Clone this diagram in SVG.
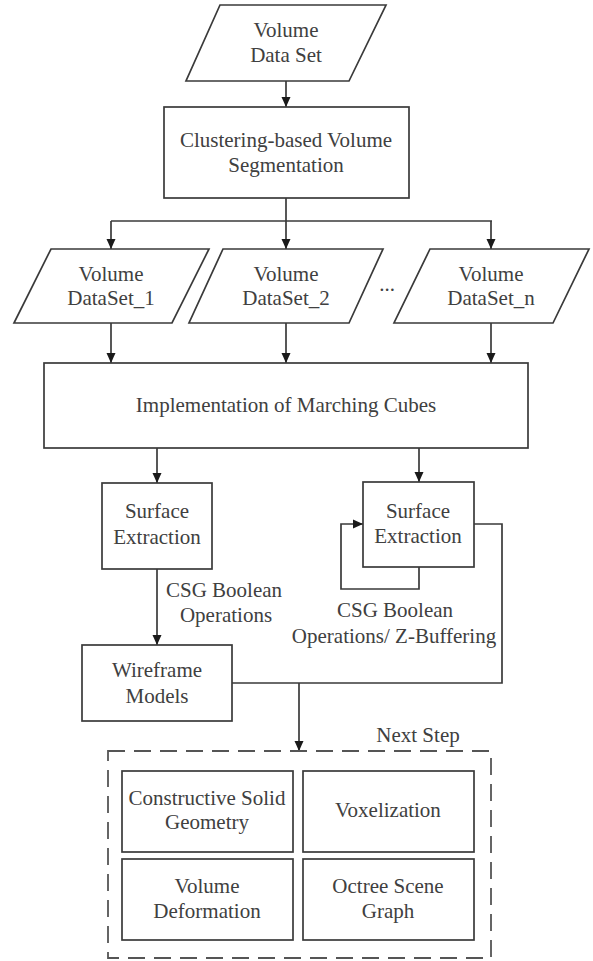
<svg xmlns="http://www.w3.org/2000/svg" width="593" height="961" viewBox="0 0 593 961">
<style>
  .shape { fill: #ffffff; stroke: #3a3a3a; stroke-width: 1.7; }
  .dash { fill: none; stroke: #555555; stroke-width: 1.8; stroke-dasharray: 17 9; }
  .conn { fill: none; stroke: #3a3a3a; stroke-width: 1.7; }
  .arrow { marker-end: url(#ah); }
  text { font-family: "Liberation Serif", "Times New Roman", serif; font-size: 21px; fill: #404040; text-anchor: middle; }
</style>
<defs>
  <marker id="ah" viewBox="0 0 10 10" refX="10" refY="5" markerWidth="10" markerHeight="10" markerUnits="userSpaceOnUse" orient="auto">
    <path d="M0,0.5 L10,5 L0,9.5 Z" fill="#1a1a1a"/>
  </marker>
</defs>
<rect x="0" y="0" width="593" height="961" fill="#ffffff"/>

<g id="connectors">
  <path class="conn arrow" d="M286,81 L286,107"/>
  <path class="conn" d="M286,198 L286,221"/>
  <path class="conn" d="M111,221 L492,221"/>
  <path class="conn arrow" d="M111,221 L111,249"/>
  <path class="conn arrow" d="M286,221 L286,249"/>
  <path class="conn arrow" d="M491,221 L491,249"/>
  <path class="conn arrow" d="M111,323 L111,363"/>
  <path class="conn arrow" d="M286,323 L286,363"/>
  <path class="conn arrow" d="M491,323 L491,363"/>
  <path class="conn arrow" d="M157,448 L157,483"/>
  <path class="conn arrow" d="M419,448 L419,482"/>
  <path class="conn arrow" d="M157,569 L157,645"/>
  <path class="conn arrow" d="M419,567 L419,589 L341,589 L341,524 L363,524"/>
  <path class="conn" d="M474,524 L502,524 L502,683 L232,683"/>
  <path class="conn arrow" d="M299,683 L299,751"/>
  <text x="224" y="597">CSG Boolean</text>
  <text x="226" y="622">Operations</text>
  <text x="395" y="617">CSG Boolean</text>
  <text x="394" y="643">Operations/ Z-Buffering</text>
</g>

<g id="volume-data-set">
  <polygon class="shape" points="220,5 386,5 349,81 186,81"/>
  <text x="286" y="37">Volume</text>
  <text x="286" y="62">Data Set</text>
</g>

<g id="clustering">
  <rect class="shape" x="164" y="107" width="245" height="91"/>
  <text x="286" y="147">Clustering-based Volume</text>
  <text x="286" y="172">Segmentation</text>
</g>

<g id="dataset-1">
  <polygon class="shape" points="51,249 209,249 172,323 14,323"/>
  <text x="111" y="281">Volume</text>
  <text x="111" y="305">DataSet_1</text>
</g>

<g id="dataset-2">
  <polygon class="shape" points="223,249 383,249 349,323 189,323"/>
  <text x="286" y="281">Volume</text>
  <text x="286" y="305">DataSet_2</text>
</g>

<g id="ellipsis">
  <text x="387" y="291">...</text>
</g>

<g id="dataset-n">
  <polygon class="shape" points="430,249 589,249 553,323 394,323"/>
  <text x="491" y="281">Volume</text>
  <text x="491" y="305">DataSet_n</text>
</g>

<g id="marching-cubes">
  <rect class="shape" x="44" y="363" width="484" height="85"/>
  <text x="286" y="412">Implementation of Marching Cubes</text>
</g>

<g id="surface-left">
  <rect class="shape" x="102" y="483" width="110" height="86"/>
  <text x="157" y="518">Surface</text>
  <text x="157" y="544">Extraction</text>
</g>

<g id="surface-right">
  <rect class="shape" x="363" y="482" width="111" height="85"/>
  <text x="418" y="518">Surface</text>
  <text x="418" y="543">Extraction</text>
</g>

<g id="wireframe">
  <rect class="shape" x="82" y="645" width="150" height="76"/>
  <text x="157" y="677">Wireframe</text>
  <text x="157" y="703">Models</text>
</g>

<g id="next-step">
  <rect class="dash" x="108" y="751" width="383" height="207"/>
  <text x="418" y="742">Next Step</text>
</g>

<g id="csg">
  <rect class="shape" x="122" y="771" width="171" height="81"/>
  <text x="207" y="805">Constructive Solid</text>
  <text x="207" y="829">Geometry</text>
</g>

<g id="voxelization">
  <rect class="shape" x="303" y="771" width="171" height="81"/>
  <text x="388" y="817">Voxelization</text>
</g>

<g id="volume-deformation">
  <rect class="shape" x="122" y="859" width="171" height="81"/>
  <text x="207" y="893">Volume</text>
  <text x="207" y="918">Deformation</text>
</g>

<g id="octree">
  <rect class="shape" x="303" y="859" width="171" height="81"/>
  <text x="388" y="893">Octree Scene</text>
  <text x="388" y="918">Graph</text>
</g>
</svg>
